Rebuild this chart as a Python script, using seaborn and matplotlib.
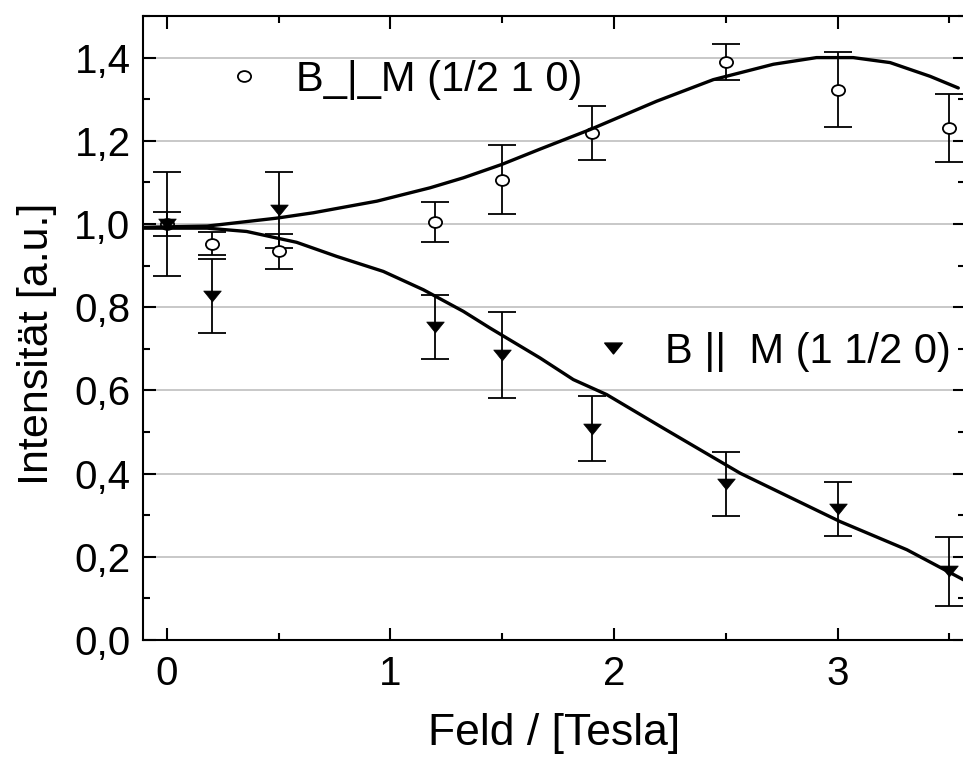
import matplotlib
matplotlib.use("Agg")
import matplotlib.pyplot as plt
from matplotlib.lines import Line2D
from matplotlib.path import Path
from matplotlib.transforms import Affine2D
from matplotlib.ticker import FuncFormatter, MultipleLocator
import numpy as np
import pandas as pd
import seaborn as sns

# Measured intensities, B perpendicular to M, reflection (1/2 1 0)
field_perp = [0.0, 0.2, 0.5, 1.2, 1.5, 1.9, 2.5, 3.0, 3.5]
int_perp = [1.000, 0.953, 0.934, 1.005, 1.106, 1.218, 1.390, 1.323, 1.230]
err_perp = [0.028, 0.027, 0.042, 0.048, 0.083, 0.065, 0.043, 0.090, 0.082]

# Measured intensities, B parallel to M, reflection (1 1/2 0)
field_par = [0.0, 0.2, 0.5, 1.2, 1.5, 1.9, 2.5, 3.0, 3.5]
int_par = [0.999, 0.826, 1.033, 0.753, 0.685, 0.508, 0.374, 0.314, 0.165]
err_par = [0.125, 0.089, 0.091, 0.077, 0.104, 0.078, 0.077, 0.065, 0.083]

# Model curves
model_perp_x = [-0.107, 0.18, 0.49, 0.655, 0.94, 1.177, 1.326, 1.497, 1.669,
                1.893, 2.19, 2.444, 2.713, 2.906, 3.07, 3.235, 3.414, 3.54]
model_perp_y = [0.992, 0.995, 1.014, 1.027, 1.055, 1.087, 1.111, 1.143, 1.180,
                1.227, 1.295, 1.347, 1.384, 1.400, 1.400, 1.388, 1.355, 1.327]
model_par_x = [-0.107, 0.18, 0.357, 0.58, 0.76, 0.968, 1.147, 1.326, 1.445,
               1.669, 1.818, 1.967, 2.221, 2.564, 3.01, 3.31, 3.58]
model_par_y = [0.990, 0.990, 0.982, 0.956, 0.922, 0.886, 0.842, 0.790, 0.750,
               0.678, 0.626, 0.590, 0.509, 0.401, 0.285, 0.217, 0.140]

label_perp = "B_|_M (1/2 1 0)"
label_par = "B ||  M (1 1/2 0)"
x_label = "Feld / [Tesla]"
y_label = "Intensität [a.u.]"

sns.set_style("ticks")
plt.rcParams["font.family"] = ["Liberation Sans", "DejaVu Sans"]
plt.rcParams.update({"text.color": "black", "axes.labelcolor": "black",
                     "xtick.color": "black", "ytick.color": "black",
                     "axes.edgecolor": "black"})

fig = plt.figure(figsize=(9.63, 7.6), dpi=100)
ax = fig.add_axes([143 / 963, 120 / 760, 822 / 963, 624 / 760])

# slightly squashed marker shapes
ellipse = Path.unit_circle().transformed(Affine2D().scale(1.0, 0.82))
tri_down = Path([(-1, 0.62), (1, 0.62), (0, -0.62), (-1, 0.62)],
                [Path.MOVETO, Path.LINETO, Path.LINETO, Path.CLOSEPOLY])

df_perp = pd.DataFrame({"B": field_perp, "I": int_perp, "err": err_perp})
df_par = pd.DataFrame({"B": field_par, "I": int_par, "err": err_par})

for df in (df_perp, df_par):
    ax.errorbar(df["B"], df["I"], yerr=df["err"], fmt="none", ecolor="black",
                elinewidth=1.3, capsize=10, capthick=1.3, zorder=3)

sns.scatterplot(data=df_perp, x="B", y="I", marker=ellipse, s=90,
                facecolor="white", edgecolor="black", linewidth=1.3,
                ax=ax, zorder=4)
sns.scatterplot(data=df_par, x="B", y="I", marker=tri_down, s=160,
                color="black", edgecolor="black", linewidth=0.5,
                ax=ax, zorder=4)

sns.lineplot(x=model_perp_x, y=model_perp_y, sort=False, color="black",
             linewidth=2.4, ax=ax, zorder=5)
sns.lineplot(x=model_par_x, y=model_par_y, sort=False, color="black",
             linewidth=2.4, ax=ax, zorder=5)

ax.set_xlim(-0.107, 3.57)
ax.set_ylim(0.0, 1.5)
ax.xaxis.set_major_locator(MultipleLocator(1))
ax.xaxis.set_minor_locator(MultipleLocator(0.5))
ax.yaxis.set_major_locator(MultipleLocator(0.2))
ax.yaxis.set_minor_locator(MultipleLocator(0.1))
ax.yaxis.set_major_formatter(FuncFormatter(lambda v, _: f"{v:.1f}".replace(".", ",")))
ax.xaxis.set_major_formatter(FuncFormatter(lambda v, _: f"{v:.0f}"))

ax.yaxis.grid(True, which="major", color="#c4c4c4", linewidth=1.3)
ax.set_axisbelow(True)

for s in ax.spines.values():
    s.set_linewidth(1.5)
    s.set_color("black")

ax.tick_params(which="both", direction="in", top=True, right=True,
               width=1.5, color="black", labelsize=29, labelcolor="black")
ax.tick_params(which="major", length=9)
ax.tick_params(which="minor", length=5)
ax.tick_params(axis="x", which="major", pad=11)
ax.tick_params(axis="y", which="major", pad=9)

ax.set_xlabel(x_label, fontsize=32, labelpad=14)
ax.set_ylabel(y_label, fontsize=31)
ax.yaxis.set_label_coords(-0.105, 0.475)

h_perp = Line2D([], [], linestyle="none", marker=ellipse, markersize=9.5,
                markerfacecolor="white", markeredgecolor="black", markeredgewidth=1.3)
h_par = Line2D([], [], linestyle="none", marker=tri_down, markersize=12.6,
               markerfacecolor="black", markeredgecolor="black")

leg1 = ax.legend(handles=[h_perp], labels=[label_perp], loc="center left",
                 bbox_to_anchor=(0.097, 0.898), frameon=False, fontsize=30,
                 handlelength=1.0, handletextpad=0.75, borderpad=0, borderaxespad=0)
ax.add_artist(leg1)
ax.legend(handles=[h_par], labels=[label_par], loc="center left",
          bbox_to_anchor=(0.546, 0.462), frameon=False, fontsize=30,
          handlelength=1.0, handletextpad=0.75, borderpad=0, borderaxespad=0)

fig.savefig("out.png", dpi=100)
